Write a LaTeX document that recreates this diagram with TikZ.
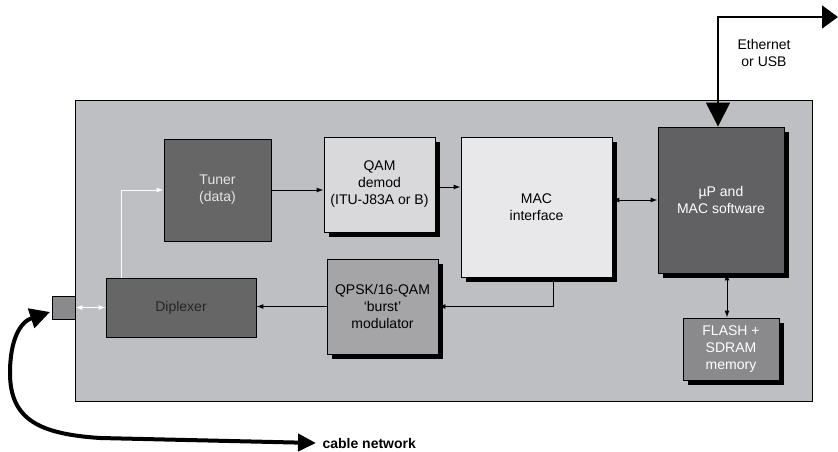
\documentclass[tikz,border=0pt]{standalone}
\usepackage{fontspec}
\setmainfont{Liberation Sans}
\usetikzlibrary{arrows.meta,shadows}
\definecolor{boardc}{HTML}{BEBFC3}
\definecolor{darkc}{HTML}{666666}
\definecolor{upc}{HTML}{616163}
\definecolor{qamc}{HTML}{D9D9DB}
\definecolor{macc}{HTML}{E8E8EA}
\definecolor{qpskc}{HTML}{A5A5A7}
\definecolor{flashc}{HTML}{8A8A8C}
\begin{document}
\begin{tikzpicture}[x=1pt,y=-1pt,
  font=\fontsize{14}{17}\selectfont,
  blk/.style={draw=black, line width=0.9pt, align=center, inner sep=0pt},
  shad/.style={general shadow={fill=black, shadow xshift=5pt, shadow yshift=-5pt}},
  sig/.style={line width=1pt, -{Latex[length=7pt,width=5pt]}},
  bisig/.style={line width=1pt, {Latex[length=7pt,width=5pt]}-{Latex[length=7pt,width=5pt]}},
  big/.style={line width=1.5pt, {Triangle[length=24pt,width=24pt]}-{Triangle[length=16pt,width=23pt]}},
  cable/.style={line width=4pt, {Triangle[length=20pt,width=20pt]}-{Triangle[length=18pt,width=17pt]}}
]
\useasboundingbox (0,0) rectangle (838,452);
\node[blk, fill=boardc, minimum width=737pt, minimum height=301pt] (board) at (443.5,250.5) {};
\node[blk, fill=darkc, text=white!90!black, minimum width=107pt, minimum height=102pt] (tuner) at (217.5,190) {Tuner\\(data)};
\node[blk, fill=darkc, text=black!85, minimum width=150pt, minimum height=59pt] (dip) at (181,307.5) {Diplexer};
\node[blk, fill=flashc, minimum width=23pt, minimum height=23pt] (conn) at (63.5,307.5) {};
\node[blk, shad, fill=qamc, minimum width=111pt, minimum height=95pt] (qam) at (379.5,184.5) {QAM\\demod\\(ITU-J83A or B)};
\node[blk, shad, fill=macc, minimum width=151pt, minimum height=140pt] (mac) at (536.5,207) {MAC\\interface};
\node[blk, shad, fill=qpskc, minimum width=111pt, minimum height=95pt] (qpsk) at (382.5,306.5) {QPSK/16-QAM\\`burst'\\modulator};
\node[blk, shad, fill=upc, text=white, minimum width=126pt, minimum height=146pt] (up) at (721,200) {µP and\\MAC software};
\node[blk, shad, fill=flashc, text=white, minimum width=96pt, minimum height=62pt] (flash) at (731,349) {FLASH +\\SDRAM\\memory};
\node[align=center] (eth) at (764,53) {Ethernet\\or USB};
\node[anchor=west, font=\fontsize{14}{17}\selectfont\bfseries] (cabtext) at (319,443) {cable network};

\draw[sig] (tuner.east) -- (tuner.east -| qam.west);
\draw[sig] (qam.east |- 0,187) -- (mac.west |- 0,187);
\draw[bisig] (mac.east |- up.west) -- (up.west);
\draw[sig] ([xshift=17pt]mac.south) |- (qpsk.east);
\draw[sig] (qpsk.west) -- (qpsk.west -| dip.east);
\draw[sig, white] ([xshift=16pt]dip.north west) |- (tuner.west);
\draw[bisig, white] (conn.east) -- (dip.west);
\draw[bisig] ([xshift=-4pt]flash.north) -- ([xshift=-4pt]flash.north |- up.south);

\coordinate (ethtip) at (838,17);
\draw[big] ([xshift=-3pt]up.north) |- (ethtip);

\coordinate (cabstart) at (50,312);
\coordinate (cabend) at (316,443);
\draw[cable] (cabstart) .. controls (20,322) and (10,340) .. (10,373)
  .. controls (10,420) and (40,434) .. (100,438) -- (cabend);
\end{tikzpicture}
\end{document}
